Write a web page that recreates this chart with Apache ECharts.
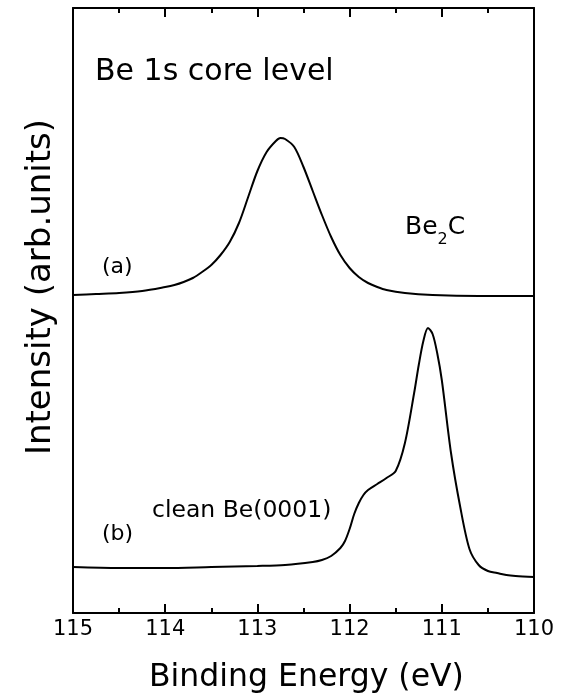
<!DOCTYPE html>
<html>
<head>
<meta charset="utf-8">
<script src="https://cdn.jsdelivr.net/npm/echarts@6.0.0/dist/echarts.min.js"></script>
<style>
html,body{margin:0;padding:0;background:#fff;}
#container{width:566px;height:695px;}
</style>
</head>
<body>
<div id="container"></div>
<script>
// (a) Be2C spectrum
var energyA = [115.0,114.75,114.5,114.25,114.0,113.9,113.8,113.7,113.6,113.5,113.4,113.3,113.2,113.1,113.0,112.9,112.8,112.75,112.7,112.6,112.5,112.4,112.3,112.2,112.1,112.0,111.9,111.8,111.7,111.6,111.4,111.1,110.6,110.0];
var intensityA = [318,319,320,322,326,328,331,335,341,348,358,371,390,416,442,461,472,475,474,466,446,422,398,376,358,345,336,330,326,323,320,318,317,317];
// (b) clean Be(0001)
var energyB = [115.0,114.5,114.0,113.5,113.0,112.7,112.4,112.3,112.2,112.1,112.05,112.0,111.95,111.9,111.85,111.8,111.7,111.6,111.5,111.4,111.3,111.25,111.2,111.15,111.1,111.05,111.0,110.9,110.8,110.7,110.6,110.5,110.4,110.3,110.2,110.0];
var intensityB = [46,45,45,46,47,48,51,53,57,65,72,84,99,110,118,123,129,135,142,170,220,248,272,285,279,260,233,160,106,64,48,42,40,38,37,36];

var xTicks = [115,114,113,112,111,110];
var fontName = 'DejaVu Sans';

function pairs(xs, ys){
	var out = [];
	for(var i = 0; i < xs.length; i++){
		out.push([xs[i], ys[i]]);
	}
	return out;
}

var axisLineStyle = {show:true, onZero:false, lineStyle:{color:'#000', width:2}};
var tickStyle = {show:true, inside:true, length:9, lineStyle:{color:'#000', width:2}};
var minorStyle = {show:true, splitNumber:2, length:5, lineStyle:{color:'#000', width:2}};

var option = {
	animation:false,
	backgroundColor:'#fff',
	grid:{left:73, right:32, top:8, bottom:82},
	xAxis:[{
		type:'value', min:110, max:115, interval:1, inverse:true,
		axisLine:axisLineStyle, axisTick:tickStyle, minorTick:minorStyle,
		splitLine:{show:false}, minorSplitLine:{show:false},
		axisLabel:{
			margin:6, color:'#000', fontSize:21, fontFamily:fontName,
			formatter:function(v){ return xTicks.indexOf(v) >= 0 ? String(v) : ''; }
		}
	},{
		type:'value', position:'top', min:110, max:115, interval:1, inverse:true,
		axisLine:axisLineStyle, axisTick:tickStyle, minorTick:minorStyle,
		splitLine:{show:false}, minorSplitLine:{show:false},
		axisLabel:{show:false}
	}],
	yAxis:[{
		type:'value', min:0, max:605,
		axisLine:axisLineStyle, axisTick:{show:false}, axisLabel:{show:false}, splitLine:{show:false}
	},{
		type:'value', position:'right', min:0, max:605,
		axisLine:axisLineStyle, axisTick:{show:false}, axisLabel:{show:false}, splitLine:{show:false}
	}],
	series:[{
		type:'line', data:pairs(energyA, intensityA), symbol:'none', smooth:0.3,
		lineStyle:{color:'#000', width:2}
	},{
		type:'line', data:pairs(energyB, intensityB), symbol:'none', smooth:0.3,
		lineStyle:{color:'#000', width:2}
	}],
	graphic:[
		{type:'text', left:95, top:57, style:{text:'Be 1s core level', fontSize:30, fontFamily:fontName, fill:'#000'}},
		{type:'text', left:102, top:256, style:{text:'(a)', fontSize:22, fontFamily:fontName, fill:'#000'}},
		{type:'text', left:102, top:523, style:{text:'(b)', fontSize:22, fontFamily:fontName, fill:'#000'}},
		{type:'text', left:152, top:499, style:{text:'clean Be(0001)', fontSize:23.5, fontFamily:fontName, fill:'#000'}},
		{type:'text', left:405, top:215, style:{
			text:'{b|Be}{s|2}{b|C}',
			rich:{
				b:{fontSize:25, fontFamily:fontName, color:'#000', lineHeight:40, verticalAlign:'middle'},
				s:{fontSize:16, fontFamily:fontName, color:'#000', lineHeight:40, verticalAlign:'bottom'}
			}
		}},
		{type:'text', left:149, top:662, style:{text:'Binding Energy (eV)', fontSize:31.5, fontFamily:fontName, fill:'#000'}},
		{type:'text', x:41, y:287, rotation:Math.PI/2, style:{text:'Intensity (arb.units)', fontSize:34, fontFamily:fontName, fill:'#000', align:'center', verticalAlign:'middle'}}
	]
};

var myChart = echarts.init(document.getElementById('container'));
myChart.setOption(option, true);
</script>
</body>
</html>
